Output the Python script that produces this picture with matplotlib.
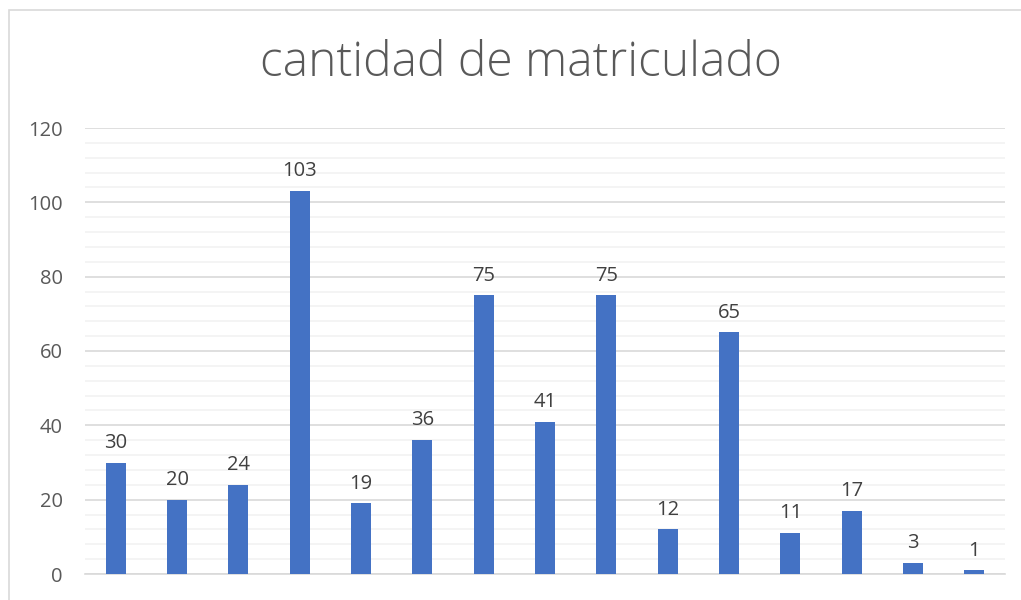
import matplotlib.pyplot as plt
from matplotlib.patches import Rectangle
from matplotlib.ticker import MultipleLocator
import numpy as np

title = "cantidad de matriculado"
values = [30, 20, 24, 103, 19, 36, 75, 41, 75, 12, 65, 11, 17, 3, 1]
categories = list(range(1, len(values) + 1))

BAR_COLOR = "#4472C4"


def main():
    plt.rcParams['font.family'] = ['Open Sans', 'DejaVu Sans']

    fig = plt.figure(figsize=(10.21, 6.0), dpi=100)
    ax = fig.add_axes([85 / 1021, 1 - 574 / 600, 920 / 1021, 446 / 600])

    # chart frame (cut off on the right and bottom)
    fig.patches.append(Rectangle((9 / 1021, -0.1), 1.2, 1 - 10 / 600 + 0.1,
                                 transform=fig.transFigure, fill=False,
                                 edgecolor="#D9D9D9", linewidth=1.2))

    x = np.arange(len(values))
    bars = ax.bar(x, values, width=0.33, color=BAR_COLOR, zorder=3)

    for rect, v in zip(bars, values):
        ax.annotate(str(v), (rect.get_x() + rect.get_width() / 2, v),
                    xytext=(0, 7), textcoords="offset points",
                    ha="center", va="bottom", fontsize=14.5, color="#404040")

    ax.set_xlim(-0.5, len(values) - 0.5)
    ax.set_ylim(0, 120)
    ax.yaxis.set_major_locator(MultipleLocator(20))
    ax.yaxis.set_minor_locator(MultipleLocator(4))
    ax.grid(which="major", axis="y", color="#D9D9D9", linewidth=1.2, zorder=0)
    ax.grid(which="minor", axis="y", color="#F2F2F2", linewidth=1.2, zorder=0)

    for side in ["top", "right", "left"]:
        ax.spines[side].set_visible(False)
    ax.spines["bottom"].set_color("#D9D9D9")
    ax.spines["bottom"].set_linewidth(1.2)

    ax.set_xticks([])
    ax.tick_params(axis="y", which="both", length=0, pad=16,
                   labelsize=14.5, labelcolor="#595959")

    fig.text(521 / 1021, 1 - 64 / 600, title, ha="center", va="center",
             fontsize=34.5, color="#595959", fontweight="light")

    fig.savefig("out.png", dpi=100)


if __name__ == "__main__":
    main()
